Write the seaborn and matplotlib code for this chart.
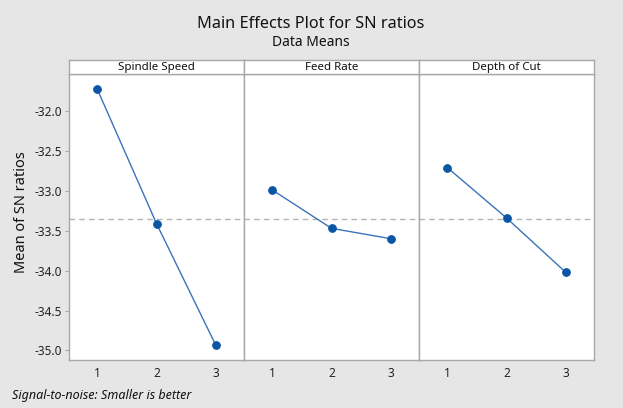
import numpy as np
import pandas as pd
import seaborn as sns
import matplotlib.pyplot as plt

# values
factors = ["Spindle Speed", "Feed Rate", "Depth of Cut"]
levels = [1, 2, 3]
spindle_speed = [-31.73, -33.41, -34.93]
feed_rate = [-32.99, -33.47, -33.60]
depth_of_cut = [-32.71, -33.34, -34.02]
y_ticks = [-32.0, -32.5, -33.0, -33.5, -34.0, -34.5, -35.0]

rows = []
for name, vals in zip(factors, [spindle_speed, feed_rate, depth_of_cut]):
    for lv, v in zip(levels, vals):
        rows.append({"factor": name, "level": lv, "sn": v})
df = pd.DataFrame(rows)
grand_mean = df["sn"].mean()

sns.set_style("white")
plt.rcParams['font.family'] = ['Noto Sans', 'DejaVu Sans']

bg = '#e6e6e6'
edge = '#a8a8a8'
line_col = '#3a74b8'
mark_col = '#0a56a5'

fig = plt.figure(figsize=(6.23, 4.08), dpi=100)
fig.patch.set_facecolor(bg)

W, H = 623.0, 408.0
left, right = 69, 594
top_hdr, bot_hdr, bottom = 60, 73.5, 360
pw = (right - left) / 3.0

for i, name in enumerate(factors):
    x0 = left + i * pw
    ax = fig.add_axes([x0 / W, 1 - bottom / H, pw / W, (bottom - bot_hdr) / H])
    hx = fig.add_axes([x0 / W, 1 - bot_hdr / H, pw / W, (bot_hdr - top_hdr) / H])

    sub = df[df["factor"] == name]
    sns.lineplot(data=sub, x="level", y="sn", ax=ax, color=line_col, lw=1.0,
                 marker='o', markersize=5.5, markerfacecolor=mark_col,
                 markeredgecolor=mark_col)
    ax.axhline(grand_mean, color='#b4b4b4', lw=1.0, ls=(0, (4, 3)), zorder=0)

    ax.set_xlim(0.52, 3.48)
    ax.set_ylim(-35.12, -31.53)
    ax.set_xticks(levels)
    ax.set_xticklabels([str(l) for l in levels], fontsize=8.5, color='#222222')
    ax.set_yticks(y_ticks)
    ax.set_xlabel("")
    ax.set_ylabel("")
    ax.set_facecolor('white')
    for s in ax.spines.values():
        s.set_color(edge)
        s.set_linewidth(1.0)
    ax.tick_params(axis='x', length=3, width=0.8, color=edge, pad=2)
    if i == 0:
        ax.set_yticklabels(["%.1f" % t for t in y_ticks], fontsize=8.5, color='#222222')
        ax.tick_params(axis='y', length=3, width=0.8, color=edge, pad=2, left=True)
    else:
        ax.tick_params(axis='y', left=False, labelleft=False)

    hx.set_facecolor('white')
    hx.set_xticks([])
    hx.set_yticks([])
    for s in hx.spines.values():
        s.set_color(edge)
        s.set_linewidth(1.0)
    hx.text(0.5, 0.45, name, ha='center', va='center', fontsize=8.3,
            color='#111111', transform=hx.transAxes)

fig.text(311 / W, 1 - 24 / H, "Main Effects Plot for SN ratios", ha='center',
         va='center', fontsize=11.7, color='#111111')
fig.text(311 / W, 1 - 43 / H, "Data Means", ha='center', va='center',
         fontsize=10, color='#111111')
fig.text(22 / W, 1 - 212 / H, "Mean of SN ratios", rotation=90, ha='center',
         va='center', fontsize=10.5, color='#111111')
fig.text(12 / W, 1 - 396 / H, "Signal-to-noise: Smaller is better", ha='left',
         va='center', fontsize=9, style='italic', color='#111111')

plt.savefig('out.png', dpi=100, facecolor=bg)
plt.close()
